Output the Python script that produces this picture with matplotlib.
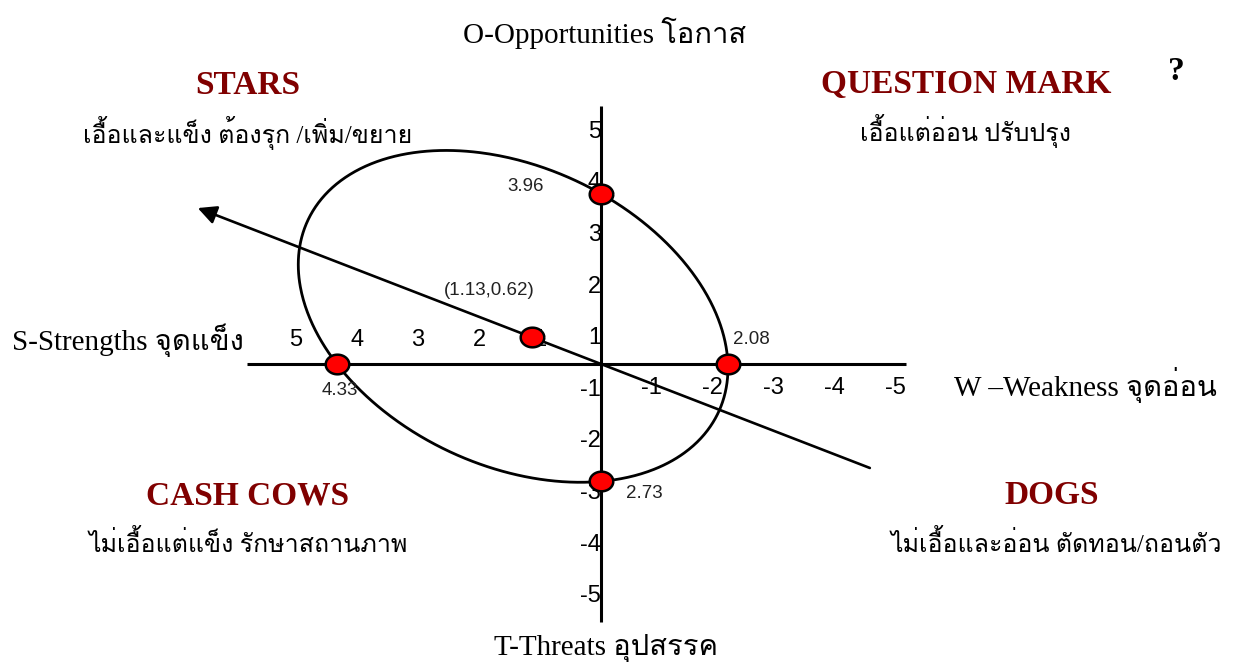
"""SWOT position chart (SPACE-style) with the strategy ellipse."""

import matplotlib
import numpy as np

matplotlib.use("Agg")
import matplotlib.pyplot as plt  # noqa: E402
from matplotlib import font_manager  # noqa: E402
from matplotlib.ft2font import FT2Font  # noqa: E402

# scores
strength = 4.33
weakness = 2.08
opportunity = 3.96
threat = 2.73
centre = (1.13, 0.62)

tick_values = [1, 2, 3, 4, 5]
quadrant_titles = ["STARS", "QUESTION MARK", "CASH COWS", "DOGS"]
quadrant_notes = [
    "เอื้อและแข็ง ต้องรุก /เพิ่ม/ขยาย",
    "เอื้อแต่อ่อน ปรับปรุง",
    "ไม่เอื้อแต่แข็ง รักษาสถานภาพ",
    "ไม่เอื้อและอ่อน ตัดทอน/ถอนตัว",
]
axis_names = [
    "O-Opportunities โอกาส",
    "S-Strengths จุดแข็ง",
    "W –Weakness จุดอ่อน",
    "T-Threats อุปสรรค",
]

# canvas geometry (pixels)
W, H = 1241, 668
OX, OY = 601, 364   # origin
SX, SY = 61, 43     # pixels per unit
TILT = -0.57        # xy term of the ellipse, the only free shape parameter
DARK_RED = "#800000"


def thai_family():
    for f in font_manager.fontManager.ttflist:
        try:
            if 0x0E01 in FT2Font(f.fname).get_charmap():
                return f.name
        except Exception:
            continue
    return "DejaVu Sans"


THAI = thai_family()
SERIF = ["Liberation Serif", THAI, "DejaVu Serif"]
SANS = ["Liberation Sans", "DejaVu Sans"]


def px(x, y):
    """Pixel position -> axes fraction."""
    return x / W, 1 - y / H


fig = plt.figure(figsize=(W / 100, H / 100), dpi=100)
ax = fig.add_axes([0, 0, 1, 1])
ax.set_xlim(OX / SX, -(W - OX) / SX)   # strengths grow to the left
ax.set_ylim(-(H - OY) / SY, OY / SY)
ax.axis("off")

# axes
ax.plot([5.8, -5.0], [0, 0], color="black", lw=2.2, solid_capstyle="butt")
ax.plot([0, 0], [-6.0, 6.0], color="black", lw=2.2, solid_capstyle="butt")

for k in tick_values:
    ax.text(k, 0.55, str(k), ha="center", va="center", fontsize=17, family=SANS)
    ax.text(-k, -0.55, str(-k), ha="right", va="center", fontsize=17, family=SANS)
    # the source puts the vertical labels between the unit marks, on a wider pitch
    for v in (k, -k):
        ax.text(0, (v - 0.5 * np.sign(v)) * 1.2, str(v), ha="right", va="center",
                fontsize=17, family=SANS)

# ellipse: conic through the four axis scores, tilted by TILT
A = 1.0
D = -(strength - weakness)
F = -strength * weakness
C = strength * weakness / (opportunity * threat)
E = -C * (opportunity - threat)
th = np.linspace(0, 2 * np.pi, 721)
c, s = np.cos(th), np.sin(th)
qa = A * c**2 + TILT * c * s + C * s**2
qb = D * c + E * s
r = (-qb + np.sqrt(qb**2 - 4 * qa * F)) / (2 * qa)
ax.plot(r * c, r * s, color="black", lw=2.0)

# strategy direction through the centre of gravity
cx, cy = centre
ax.annotate("", xy=(5.85 * cx, 5.85 * cy), xytext=(-3.9 * cx, -3.9 * cy),
            arrowprops=dict(arrowstyle="-|>", color="black", lw=1.9,
                            mutation_scale=28, shrinkA=0, shrinkB=0))

# markers
t = np.linspace(0, 2 * np.pi, 40)
oval = list(zip(1.2 * np.cos(t), np.sin(t)))
pts_x = [strength, -weakness, 0, 0, cx]
pts_y = [0, 0, opportunity, -threat, cy]
ax.plot(pts_x, pts_y, ls="none", marker=oval, markersize=17,
        markerfacecolor="red", markeredgecolor="black", markeredgewidth=1.8, zorder=5)

value_labels = [
    (f"{strength:.2f}", (strength, 0), (2, -19)),
    (f"{weakness:.2f}", (-weakness, 0), (17, 18)),
    (f"{opportunity:.2f}", (0, opportunity), (-54, 5)),
    (f"{threat:.2f}", (0, -threat), (31, -9)),
    (f"({cx:.2f},{cy:.2f})", centre, (-31, 34)),
]
for text, xy, off in value_labels:
    ax.annotate(text, xy=xy, xytext=off, textcoords="offset points",
                ha="center", va="center", fontsize=13.5, family=SANS, color="#222222")

# quadrant headings
title_pos = [(248, 85), (966, 85), (248, 496), (1052, 496)]
note_pos = [(248, 133), (966, 131), (248, 543), (1056, 543)]
for title, note, tp, npos in zip(quadrant_titles, quadrant_notes, title_pos, note_pos):
    ax.text(*px(*tp), title, transform=ax.transAxes, ha="center", va="center",
            fontsize=24, fontweight="bold", color=DARK_RED, family=SERIF)
    ax.text(*px(*npos), note, transform=ax.transAxes, ha="center", va="center",
            fontsize=18, family=SERIF)
ax.text(*px(1176, 72), "?", transform=ax.transAxes, ha="center", va="center",
        fontsize=24, fontweight="bold", family=SERIF)

# axis names
name_pos = [(605, 33), (128, 340), (1085, 385), (606, 648)]
for name, pos in zip(axis_names, name_pos):
    ax.text(*px(*pos), name, transform=ax.transAxes, ha="center", va="center",
            fontsize=21, family=SERIF)

fig.savefig("out.png", dpi=100)
plt.close(fig)
